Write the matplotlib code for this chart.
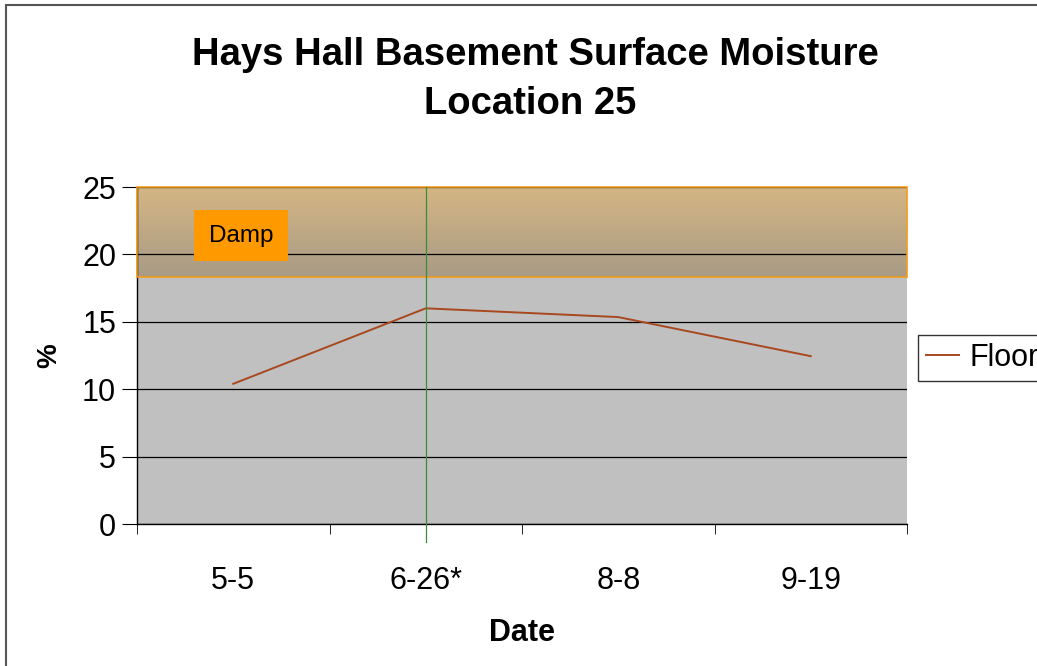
import numpy as np
from matplotlib import pyplot as plt
from matplotlib.colors import LinearSegmentedColormap
from matplotlib.patches import Rectangle

dates = ["5-5", "6-26*", "8-8", "9-19"]
floor = [10.4, 16.0, 15.35, 12.45]
damp_low, damp_high = 18.3, 25
marker_date = 1  # index of 6-26*

plt.rcParams['font.family'] = ['Liberation Sans', 'DejaVu Sans']

fig = plt.figure(figsize=(10.37, 6.66), dpi=100)
fig.patches.append(Rectangle((6 / 1037, -0.1), 1.2, 1.1 - 5 / 666, transform=fig.transFigure,
                             fill=False, edgecolor='#555555', linewidth=1.5))

ax = fig.add_axes([137 / 1037, 142 / 666, 770 / 1037, 337 / 666])
ax.set_facecolor('#C0C0C0')

x = np.arange(len(dates))
ax.set_xlim(-0.5, len(dates) - 0.5)
ax.set_ylim(0, 25)

# damp band with a vertical gradient
band_cmap = LinearSegmentedColormap.from_list('band', ['#A89B86', '#D5B683'])
grad = np.linspace(0, 1, 256).reshape(-1, 1)
ax.imshow(grad, cmap=band_cmap, origin='lower', aspect='auto',
          extent=[-0.5, len(dates) - 0.5, damp_low, damp_high], zorder=0.5)
ax.add_patch(Rectangle((-0.5, damp_low), len(dates), damp_high - damp_low,
                       fill=False, edgecolor='#F39C1A', linewidth=1.2, zorder=2.6, clip_on=False))

ax.set_yticks(range(0, 26, 5))
ax.yaxis.grid(True, color='black', linewidth=0.9)
ax.set_axisbelow(False)

ax.plot(x, floor, color='#A8481F', linewidth=1.4, label='Floor', zorder=3)
ax.plot([marker_date, marker_date], [-1.35, 25], color='#3C8C3C', linewidth=0.9,
        clip_on=False, zorder=3)

ax.text(0.093, 0.855, "Damp", transform=ax.transAxes, fontsize=17.5, va='center', ha='left',
        bbox=dict(boxstyle='square,pad=0.6', facecolor='#FF9900', edgecolor='none'), zorder=4)

for s in ['top', 'right']:
    ax.spines[s].set_visible(False)
for s in ['left', 'bottom']:
    ax.spines[s].set_linewidth(1.0)

ax.set_xticks(x)
ax.set_xticklabels(dates, fontsize=22)
ax.tick_params(axis='x', length=0, pad=30)
ax.set_xticks(np.arange(-0.5, len(dates), 1), minor=True)
ax.tick_params(axis='x', which='minor', length=7, direction='out')
ax.tick_params(axis='y', labelsize=22, length=11, direction='out', pad=4)

ax.set_xlabel("Date", fontsize=22, fontweight='bold', labelpad=16)
ax.set_ylabel("%", fontsize=20, fontweight='bold', labelpad=14)

fig.text(535 / 1037, 1 - 55 / 666, "Hays Hall Basement Surface Moisture",
         ha='center', va='center', fontsize=27.5, fontweight='bold')
fig.text(530 / 1037, 1 - 104 / 666, "Location 25",
         ha='center', va='center', fontsize=27.5, fontweight='bold')

ax.legend(loc='center left', bbox_to_anchor=(918 / 1037, 1 - 358 / 666),
          bbox_transform=fig.transFigure, fontsize=22, frameon=True, fancybox=False,
          edgecolor='black', handlelength=1.1, borderpad=0.25, handletextpad=0.35,
          borderaxespad=0)

fig.savefig("out.png", dpi=100)
